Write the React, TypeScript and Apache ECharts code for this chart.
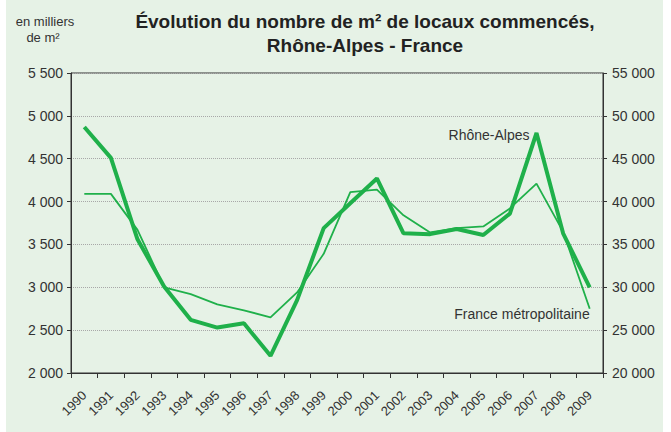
import React, { useEffect, useRef } from "react";
import * as echarts from "echarts";

const years = ["1990","1991","1992","1993","1994","1995","1996","1997","1998","1999","2000","2001","2002","2003","2004","2005","2006","2007","2008","2009"];
const rhoneAlpes = [4870, 4510, 3560, 3010, 2620, 2530, 2580, 2200, 2850, 3690, 3980, 4270, 3630, 3620, 3680, 3610, 3860, 4800, 3630, 3000];
const franceMetro = [40900, 40900, 36700, 30000, 29200, 28000, 27300, 26500, 29400, 33900, 41100, 41400, 38400, 36400, 36900, 37100, 39200, 42100, 36500, 27500];

const titleLine1 = "Évolution du nombre de m² de locaux commencés,";
const titleLine2 = "Rhône-Alpes - France";
const unitLine1 = "en milliers";
const unitLine2 = "de m²";
const labelRhone = "Rhône-Alpes";
const labelFrance = "France métropolitaine";

const FONT = "'Liberation Sans Narrow', 'Arial Narrow', 'Liberation Sans', Arial, sans-serif";
const GREEN = "#1fb04a";
const TEXT = "#333333";

const fmt = (v: number) => {
  const s = String(Math.round(v));
  return s.replace(/\B(?=(\d{3})+(?!\d))/g, " ");
};

export default function App() {
  const ref = useRef<HTMLDivElement>(null);
  useEffect(() => {
    if (!ref.current) return;
    const chart = echarts.init(ref.current, null, { renderer: "svg" });
    chart.setOption({
      animation: false,
      backgroundColor: "#ffffff",
      textStyle: { fontFamily: FONT },
      grid: {
        left: 71,
        right: 68,
        top: 73,
        bottom: 59,
        show: true,
        borderColor: "#333",
        borderWidth: 1,
        backgroundColor: "transparent",
      },
      graphic: [
        { type: "rect", z: -10, shape: { x: 6, y: 0, width: 657, height: 432 }, style: { fill: "#e6f2e6" } },
        { type: "text", x: 365, y: 21, style: { text: titleLine1, font: `bold 19px ${FONT}`, fill: "#222", align: "center", verticalAlign: "middle" } },
        { type: "text", x: 365, y: 45, style: { text: titleLine2, font: `bold 19px ${FONT}`, fill: "#222", align: "center", verticalAlign: "middle" } },
        { type: "text", x: 45, y: 21, style: { text: unitLine1, font: `13px ${FONT}`, fill: TEXT, align: "center", verticalAlign: "middle" } },
        { type: "text", x: 43, y: 37, style: { text: unitLine2, font: `13px ${FONT}`, fill: TEXT, align: "center", verticalAlign: "middle" } },
        { type: "text", x: 489, y: 135, style: { text: labelRhone, font: `14px ${FONT}`, fill: TEXT, align: "center", verticalAlign: "middle" } },
        { type: "text", x: 522, y: 314, style: { text: labelFrance, font: `14px ${FONT}`, fill: TEXT, align: "center", verticalAlign: "middle" } },
      ],
      xAxis: {
        type: "category",
        data: years,
        boundaryGap: true,
        axisLine: { lineStyle: { color: "#333" } },
        axisTick: { show: true, length: 5, interval: 0, lineStyle: { color: "#333" } },
        axisLabel: { rotate: 45, interval: 0, color: TEXT, fontSize: 13, fontFamily: FONT, margin: 20 },
      },
      yAxis: [
        {
          type: "value",
          min: 2000,
          max: 5500,
          interval: 500,
          position: "left",
          axisLine: { show: true, lineStyle: { color: "#333" } },
          axisTick: { show: true, length: 4, lineStyle: { color: "#333" } },
          axisLabel: { color: TEXT, fontSize: 14, fontFamily: FONT, formatter: fmt, margin: 8 },
          splitLine: { show: true, lineStyle: { color: "#a8a8a8", type: [1, 1], width: 1 } },
        },
        {
          type: "value",
          min: 20000,
          max: 55000,
          interval: 5000,
          position: "right",
          axisLine: { show: true, lineStyle: { color: "#333" } },
          axisTick: { show: true, length: 4, lineStyle: { color: "#333" } },
          axisLabel: { color: TEXT, fontSize: 14, fontFamily: FONT, formatter: fmt, margin: 9 },
          splitLine: { show: false },
        },
      ],
      series: [
        {
          name: "France métropolitaine",
          type: "line",
          yAxisIndex: 1,
          data: franceMetro,
          symbol: "none",
          lineStyle: { color: GREEN, width: 1.8 },
        },
        {
          name: "Rhône-Alpes",
          type: "line",
          yAxisIndex: 0,
          data: rhoneAlpes,
          symbol: "none",
          lineStyle: { color: GREEN, width: 4 },
        },
      ],
    });
    return () => chart.dispose();
  }, []);
  return (
    <div style={{ position: "absolute", left: 0, top: 0, width: 671, height: 432 }}>
      <div ref={ref} style={{ width: 671, height: 432 }} />
    </div>
  );
}
